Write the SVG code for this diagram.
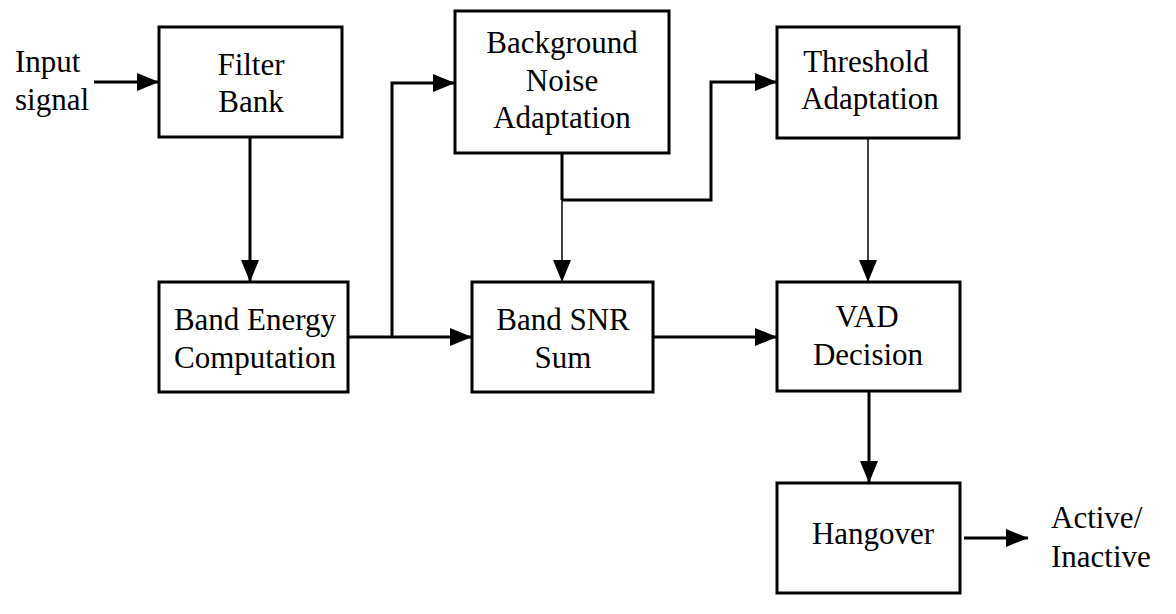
<svg xmlns="http://www.w3.org/2000/svg" width="1176" height="614" viewBox="0 0 1176 614">
<style>
.box{fill:#fff;stroke:#000;stroke-width:3}
.t{font-family:'Liberation Serif','Tinos','Times New Roman',Times,'Nimbus Roman','FreeSerif','DejaVu Serif','Noto Serif',serif;font-size:31px;fill:#000;text-anchor:middle}
.l{font-family:'Liberation Serif','Tinos','Times New Roman',Times,'Nimbus Roman','FreeSerif','DejaVu Serif','Noto Serif',serif;font-size:31px;fill:#000}
.c{fill:none;stroke:#000;stroke-width:3}
.thin{fill:none;stroke:#000;stroke-width:1.5}
</style>
<defs>
<marker id="ah" markerUnits="userSpaceOnUse" markerWidth="22" markerHeight="20" refX="22" refY="10" orient="auto">
<path d="M0,1 L22,10 L0,19 Z" fill="#000"/>
</marker>
</defs>
<rect width="1176" height="614" fill="#fff"/>
<g id="connectors">
<line class="c" x1="94" y1="82" x2="159" y2="82" marker-end="url(#ah)"/>
<line class="c" x1="250" y1="137" x2="250" y2="282" marker-end="url(#ah)"/>
<line class="c" x1="348" y1="337" x2="472" y2="337" marker-end="url(#ah)"/>
<polyline class="c" points="392,337 392,83 455,83" marker-end="url(#ah)"/>
<line class="c" x1="562" y1="153" x2="562" y2="200"/>
<line class="thin" x1="562" y1="200" x2="562" y2="282" marker-end="url(#ah)"/>
<polyline class="c" points="562,200 711,200 711,82 777,82" marker-end="url(#ah)"/>
<line class="thin" x1="868" y1="138" x2="868" y2="282" marker-end="url(#ah)"/>
<line class="c" x1="653" y1="337" x2="777" y2="337" marker-end="url(#ah)"/>
<line class="c" x1="869" y1="391" x2="869" y2="483" marker-end="url(#ah)"/>
<line class="c" x1="964" y1="538" x2="1028" y2="538" marker-end="url(#ah)"/>
</g>
<g id="input-label">
<text class="l" x="15" y="72">Input</text>
<text class="l" x="15" y="110">signal</text>
</g>
<g id="filter-bank">
<rect class="box" x="159" y="27" width="183" height="110"/>
<text class="t" x="251" y="75">Filter</text>
<text class="t" x="251" y="112">Bank</text>
</g>
<g id="band-energy">
<rect class="box" x="159" y="282" width="189" height="110"/>
<text class="t" x="255" y="330">Band Energy</text>
<text class="t" x="255" y="368">Computation</text>
</g>
<g id="background-noise">
<rect class="box" x="455" y="11" width="214" height="142"/>
<text class="t" x="562" y="53">Background</text>
<text class="t" x="562" y="91">Noise</text>
<text class="t" x="562" y="128">Adaptation</text>
</g>
<g id="band-snr">
<rect class="box" x="472" y="282" width="181" height="110"/>
<text class="t" x="563" y="330">Band SNR</text>
<text class="t" x="563" y="368">Sum</text>
</g>
<g id="threshold">
<rect class="box" x="777" y="27" width="182" height="111"/>
<text class="t" x="866" y="72">Threshold</text>
<text class="t" x="870" y="109">Adaptation</text>
</g>
<g id="vad-decision">
<rect class="box" x="777" y="282" width="183" height="109"/>
<text class="t" x="867" y="327">VAD</text>
<text class="t" x="868" y="365">Decision</text>
</g>
<g id="hangover">
<rect class="box" x="777" y="483" width="183" height="110"/>
<text class="t" x="873" y="544">Hangover</text>
</g>
<g id="output-label">
<text class="l" x="1051" y="528">Active/</text>
<text class="l" x="1051" y="567">Inactive</text>
</g>
</svg>
